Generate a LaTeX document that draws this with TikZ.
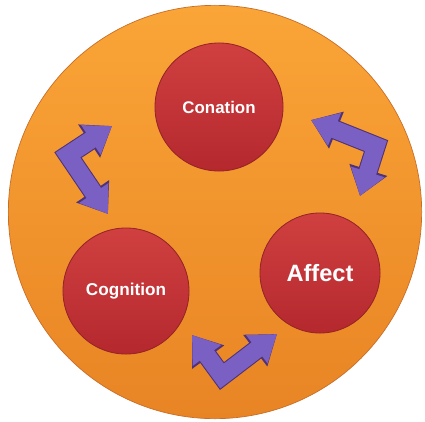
\documentclass[tikz,border=0pt]{standalone}
\usepackage{fontspec}
\setmainfont{Liberation Sans}
\usetikzlibrary{arrows.meta}
\definecolor{orangetop}{RGB}{250,165,55}
\definecolor{orangebot}{RGB}{232,132,36}
\definecolor{orangerand}{RGB}{200,110,40}
\definecolor{redtop}{RGB}{208,64,64}
\definecolor{redbot}{RGB}{180,40,46}
\definecolor{redrand}{RGB}{150,35,40}
\definecolor{pfeilfarbe}{RGB}{122,96,194}
\definecolor{pfeilrand}{RGB}{80,50,120}
\tikzset{
    kreis/.style={circle, top color=redtop, bottom color=redbot, draw=redrand,
        line width=0.6pt, text=white, font=\bfseries, inner sep=0pt},
    bogenpfeil/.style={draw=pfeilfarbe, line width=12.5pt, line join=miter,
        arrows={Triangle[length=18pt,width=24pt]-Triangle[length=18pt,width=24pt]},
        preaction={draw=pfeilrand, line width=14pt, line join=miter,
        arrows={Triangle[length=19.5pt,width=27pt]-Triangle[length=19.5pt,width=27pt]}}}
}
\begin{document}
\begin{tikzpicture}[x=0.025cm, y=-0.025cm]
        \useasboundingbox (0,0) rectangle (425,421);
        % Hintergrund
        \node[circle, minimum size=10.33cm, inner sep=0pt, top color=orangetop,
            bottom color=orangebot, draw=orangerand, line width=0.5pt] (ring) at (215,212) {};
        % Kreise
        \node[kreis, minimum size=3.2cm, font=\bfseries\fontsize{12}{14}\selectfont]
            (conation) at (219,107) {Conation};
        \node[kreis, minimum size=3.15cm, font=\bfseries\fontsize{12.2}{14}\selectfont]
            (cognition) at (126,291) {Cognition};
        \node[kreis, minimum size=3.0cm, font=\bfseries\fontsize{16.8}{19}\selectfont]
            (affect) at (320,273) {Affect};
        % Pfeile
        \draw[bogenpfeil] (112,126) -- (68,155) -- (108,214);
        \draw[bogenpfeil] (311,120) -- (376,146) -- (360,196);
        \draw[bogenpfeil] (192,335) -- (222,376) -- (277,334);
\end{tikzpicture}
\end{document}
